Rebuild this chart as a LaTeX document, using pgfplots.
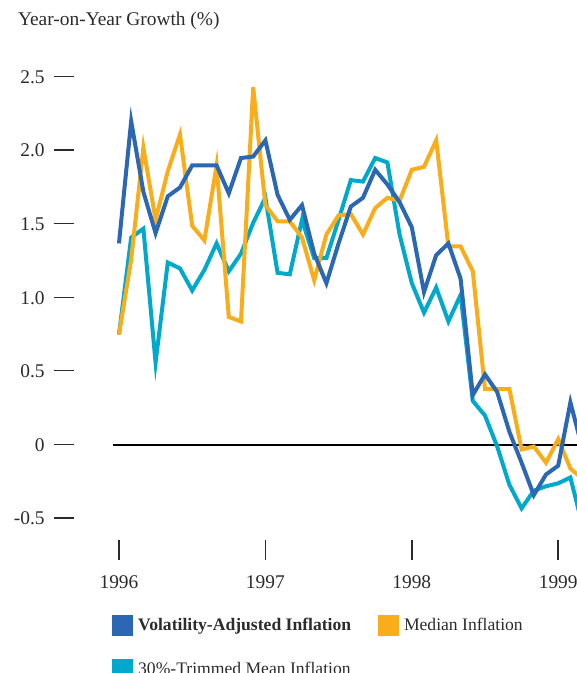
\documentclass[border=0pt]{standalone}
\usepackage{pgfplots}
\pgfplotsset{compat=1.18}
\usepackage{pgfplotstable}
\usepackage{fontspec}
\setmainfont{Liberation Serif}

\definecolor{vablue}{HTML}{2B67B2}
\definecolor{medorange}{HTML}{F9AD1B}
\definecolor{trimcyan}{HTML}{00A9CB}
\definecolor{txt}{HTML}{2B2B2B}

% y tick label with the short dash after it
\newcommand{\ytl}[1]{#1\hspace{4.5pt}\rule[3.2pt]{10pt}{0.6pt}}

% monthly, month 0 = Jan 1996
\pgfplotstableread{
m  va    med   trim
0  1.37  0.75  0.75
1  2.20  1.26  1.41
2  1.72  2.02  1.47
3  1.44  1.53  0.56
4  1.69  1.86  1.24
5  1.75  2.11  1.20
6  1.90  1.49  1.05
7  1.90  1.39  1.19
8  1.90  1.90  1.37
9  1.71  0.87  1.18
10 1.95  0.84  1.30
11 1.96  2.43  1.51
12 2.07  1.63  1.68
13 1.70  1.52  1.17
14 1.53  1.52  1.16
15 1.63  1.41  1.53
16 1.30  1.12  1.27
17 1.10  1.43  1.27
18 1.37  1.56  1.53
19 1.62  1.57  1.80
20 1.68  1.43  1.79
21 1.87  1.61  1.95
22 1.77  1.68  1.92
23 1.65  1.66  1.43
24 1.48  1.87  1.10
25 1.04  1.89  0.90
26 1.29  2.07  1.07
27 1.37  1.35  0.84
28 1.13  1.35  1.02
29 0.34  1.18  0.30
30 0.48  0.38  0.20
31 0.36  0.38  -0.01
32 0.09  0.38  -0.27
33 -0.12 -0.03 -0.43
34 -0.34 -0.01 -0.31
35 -0.20 -0.12 -0.28
36 -0.14 0.04  -0.26
37 0.29  -0.16 -0.22
38 -0.03 -0.23 -0.55
}\growth

\begin{document}
\begin{tikzpicture}
\begin{axis}[name=ax,
  width=232pt, height=235pt, scale only axis,
  xmin=-0.49, xmax=37.54,
  ymin=-0.645, ymax=2.548,
  axis line style={draw=none},
  xtick={0,12,24,36},
  xticklabels={1996,1997,1998,1999},
  xtick pos=bottom,
  tick align=outside,
  major tick length=10pt,
  x tick style={draw=txt, line width=0.8pt},
  ytick={-0.5,0,0.5,1,1.5,2,2.5},
  yticklabels={\ytl{-0.5},\ytl{0},\ytl{0.5},\ytl{1.0},\ytl{1.5},\ytl{2.0},\ytl{2.5}},
  ytick pos=left,
  y tick style={draw=none},
  every tick label/.append style={font=\fontsize{9.7}{11}\selectfont, text=txt},
  xticklabel style={anchor=base, yshift=-14pt},
  yticklabel style={anchor=east, inner sep=0pt, xshift=-9.5pt},
  legend columns=2,
  legend cell align=left,
  legend style={at={(0,0)}, anchor=north west, xshift=-0.5pt, yshift=-37.5pt,
    draw=none, fill=none, inner sep=0pt,
    font=\fontsize{8.8}{10}\selectfont, text=txt,
    nodes={inner sep=0pt, text height=6.5pt, text depth=1.8pt},
    row sep=11.5pt,
    /tikz/every odd column/.append style={column sep=2.5pt},
    /tikz/every even column/.append style={column sep=13.5pt}},
  legend image code/.code={\fill (0pt,-5pt) rectangle (10pt,5pt);},
  clip=true,
]
\addlegendimage{vablue, fill=vablue}
\addlegendentry{\textbf{Volatility-Adjusted Inflation}}
\addlegendimage{medorange, fill=medorange}
\addlegendentry{Median Inflation}
\addlegendimage{trimcyan, fill=trimcyan}
\addlegendentry{30\%-Trimmed Mean Inflation}

\addplot[black, line width=1pt, forget plot] coordinates {(-0.49,0) (40,0)};
\addplot[trimcyan, line width=2pt, forget plot] table[x=m, y=trim] {\growth};
\addplot[medorange, line width=2pt, forget plot] table[x=m, y=med] {\growth};
\addplot[vablue, line width=2pt, forget plot] table[x=m, y=va] {\growth};
\end{axis}
\node[anchor=base west, font=\fontsize{9.7}{11}\selectfont, text=txt]
  at ([shift={(-51pt,22.5pt)}]ax.north west) {Year-on-Year Growth (\%)};
\pgfresetboundingbox
\path[use as bounding box] ([shift={(-56.5pt,-66.5pt)}]ax.south west)
  rectangle ([shift={(0pt,35pt)}]ax.north east);
\end{tikzpicture}
\end{document}
